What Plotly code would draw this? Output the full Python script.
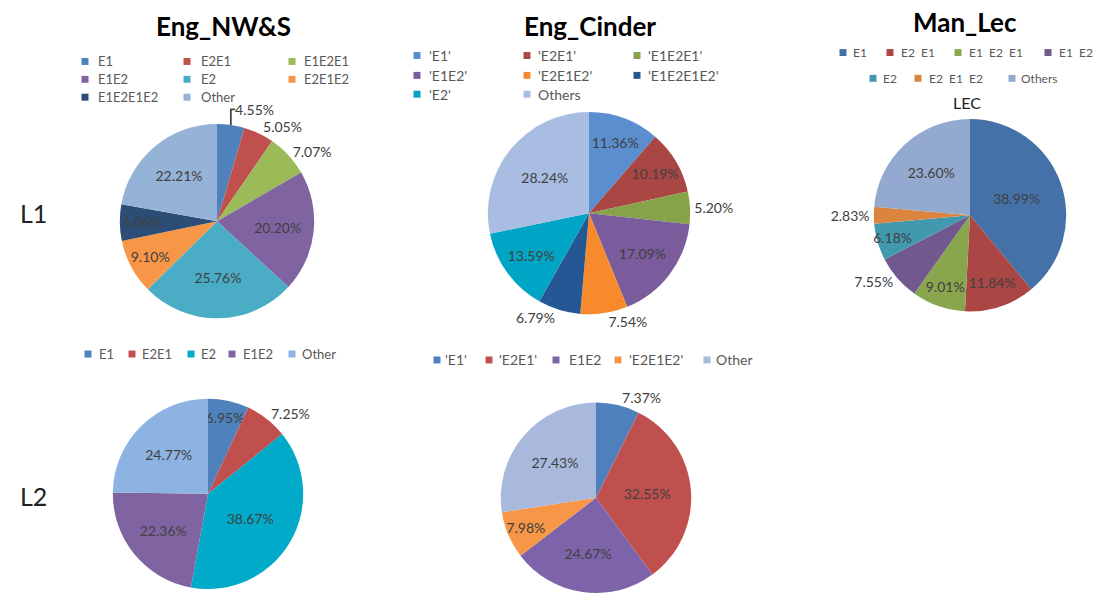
import plotly.graph_objects as go

W, H = 1099, 598

# ---------------- data ----------------
nws_l1_labels = ["E1", "E2E1", "E1E2E1", "E1E2", "E2", "E2E1E2", "E1E2E1E2", "Other"]
nws_l1_values = [4.55, 5.05, 7.07, 20.20, 25.76, 9.10, 6.06, 22.21]
nws_l1_colors = ["#4F81BD", "#C0504D", "#9BBB59", "#8064A2", "#4BACC6", "#F79646", "#2C4D75", "#95B3D7"]
nws_l1_pos = ["outside", "outside", "outside", "inside", "inside", "inside", "inside", "inside"]
nws_l1_legend_order = ["E1", "E2E1", "E1E2E1", "E1E2", "E2", "E2E1E2", "E1E2E1E2", "Other"]

cin_l1_labels = ["'E1'", "'E2E1'", "'E1E2E1'", "'E1E2'", "'E2E1E2'", "'E1E2E1E2'", "'E2'", "Others"]
cin_l1_values = [11.36, 10.19, 5.20, 17.09, 7.54, 6.79, 13.59, 28.24]
cin_l1_colors = ["#5A8ECF", "#AA4644", "#86A34A", "#7A5C9C", "#F68A2D", "#265795", "#00A5C5", "#A9BDE3"]
cin_l1_pos = ["inside", "inside", "outside", "inside", "outside", "outside", "inside", "inside"]
cin_l1_legend_order = ["'E1'", "'E2E1'", "'E1E2E1'", "'E1E2'", "'E2E1E2'", "'E1E2E1E2'", "'E2'", "Others"]

lec_labels = ["E1", "E2  E1", "E1  E2  E1", "E1  E2", "E2", "E2  E1  E2", "Others"]
lec_values = [38.99, 11.84, 9.01, 7.55, 6.18, 2.83, 23.60]
lec_colors = ["#4472A8", "#AA4643", "#89A54E", "#71588F", "#4198AF", "#DB843D", "#93A9CF"]
lec_pos = ["inside", "inside", "inside", "outside", "inside", "outside", "inside"]

nws_l2_labels = ["E1", "E2E1", "E2", "E1E2", "Other"]
nws_l2_values = [6.95, 7.25, 38.67, 22.36, 24.77]
nws_l2_colors = ["#4F81BD", "#C0504D", "#00AAC8", "#8064A2", "#8DB3E2"]
nws_l2_pos = ["inside", "outside", "inside", "inside", "inside"]

cin_l2_labels = ["'E1'", "'E2E1'", "E1E2", "'E2E1E2'", "Other"]
cin_l2_values = [7.37, 32.55, 24.67, 7.98, 27.43]
cin_l2_colors = ["#4F81BD", "#C0504D", "#7D64AA", "#F79646", "#A8B9DD"]
cin_l2_pos = ["outside", "inside", "inside", "inside", "inside"]

col_titles = ["Eng_NW&S", "Eng_Cinder", "Man_Lec"]
row_titles = ["L1", "L2"]

FONT = "Lato, 'Open Sans', sans-serif"
LABEL_COLOR = "#404040"
LEGEND_COLOR = "#595959"
LABEL_SIZE = 14


def dom(cx, cy, r):
    return dict(x=[(cx - r) / W, (cx + r) / W], y=[1 - (cy + r) / H, 1 - (cy - r) / H])


def pie(labels, values, colors, pos, cx, cy, r):
    return go.Pie(
        labels=labels, values=values, sort=False, direction="clockwise", rotation=0,
        marker=dict(colors=colors, line=dict(width=0)),
        texttemplate="%{value:.2f}%", textposition=pos,
        insidetextorientation="horizontal",
        textfont=dict(family=FONT, size=LABEL_SIZE, color=LABEL_COLOR),
        domain=dom(cx, cy, r), showlegend=False, hoverinfo="label+value",
    )


fig = go.Figure()
fig.add_trace(pie(nws_l1_labels, nws_l1_values, nws_l1_colors, nws_l1_pos, 217, 223, 98))
fig.add_trace(pie(cin_l1_labels, cin_l1_values, cin_l1_colors, cin_l1_pos, 589, 215, 102))
fig.add_trace(pie(lec_labels, lec_values, lec_colors, lec_pos, 970, 217, 97))
fig.add_trace(pie(nws_l2_labels, nws_l2_values, nws_l2_colors, nws_l2_pos, 208, 498, 96))
fig.add_trace(pie(cin_l2_labels, cin_l2_values, cin_l2_colors, cin_l2_pos, 596, 502, 96))

annotations = []
shapes = []


def txt(x, y, s, size, color="black", bold=False, anchor="center"):
    annotations.append(dict(
        x=x / W, y=1 - y / H, xref="paper", yref="paper", text=("<b>%s</b>" % s) if bold else s,
        showarrow=False, xanchor=anchor, yanchor="middle",
        font=dict(family=FONT, size=size, color=color)))


def legend(labels, colors, positions, size):
    # positions: list of (square_x, text_x, y) in pixels for each entry
    for lab, col, (sx, tx, y) in zip(labels, colors, positions):
        shapes.append(dict(type="rect", xref="paper", yref="paper",
                           x0=(sx - 3.5) / W, x1=(sx + 3.5) / W,
                           y0=1 - (y + 3.5) / H, y1=1 - (y - 3.5) / H,
                           fillcolor=col, line=dict(width=0)))
        txt(tx, y, lab, size, LEGEND_COLOR, anchor="left")


# titles
txt(223, 26, col_titles[0], 26, bold=True)
txt(590, 26, col_titles[1], 26, bold=True)
txt(965, 22, col_titles[2], 26, bold=True)
txt(967, 103, "LEC", 16, "#222222")
txt(33, 215, row_titles[0], 25, "#222222")
txt(33, 500, row_titles[1], 25, "#222222")

# legends
cols3 = [(85, 96), (187, 199), (292, 302)]
rows3 = [62, 80, 98]
pos = [(cols3[i % 3][0], cols3[i % 3][1], rows3[i // 3]) for i in range(len(nws_l1_legend_order))]
legend(nws_l1_legend_order, nws_l1_colors, pos, 13)

ccols = [(417, 427), (527, 536), (637, 646)]
crows = [56, 76, 95]
pos = [(ccols[i % 3][0], ccols[i % 3][1], crows[i // 3]) for i in range(len(cin_l1_legend_order))]
legend(cin_l1_legend_order, cin_l1_colors, pos, 14)

lec_pos_leg = [(843, 851, 53), (890, 899, 53), (958, 967, 53), (1048, 1057, 53),
               (873, 881, 79), (918, 927, 79), (1012, 1019, 79)]
legend(lec_labels, lec_colors, lec_pos_leg, 12)

nws2_pos = [(88, 97, 357), (132, 140, 357), (191, 199, 357), (232, 241, 357), (292, 300, 357)]
legend(nws_l2_labels, nws_l2_colors, nws2_pos, 13)

cin2_pos = [(437, 443, 363), (489, 497, 363), (556, 567, 363), (618, 627, 363), (707, 714, 363)]
legend(cin_l2_labels, cin_l2_colors, cin2_pos, 14)

fig.update_layout(
    width=W, height=H, margin=dict(l=0, r=0, t=0, b=0),
    paper_bgcolor="white", plot_bgcolor="white",
    annotations=annotations, shapes=shapes,
    uniformtext=dict(minsize=LABEL_SIZE, mode="show"),
    font=dict(family=FONT),
)

fig.write_html("out.html", config={"displayModeBar": False},
               post_script="document.body.style.margin='0px';document.body.style.overflow='hidden';")
